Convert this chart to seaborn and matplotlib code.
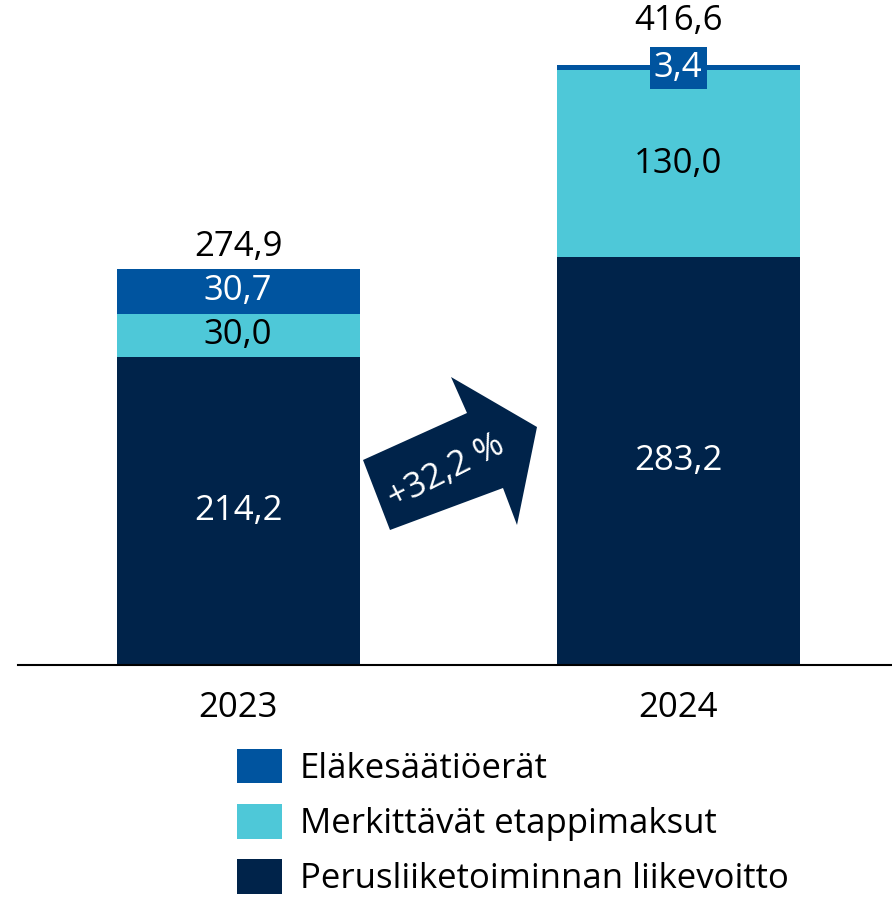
import pandas as pd
import numpy as np
import matplotlib.pyplot as plt
import seaborn as sns
from matplotlib.patches import Polygon, Patch

years = ["2023", "2024"]
perus = [214.2, 283.2]
etappi = [30.0, 130.0]
elake = [30.7, 3.4]
totals = [274.9, 416.6]
series_names = ["Eläkesäätiöerät", "Merkittävät etappimaksut", "Perusliiketoiminnan liikevoitto"]
growth_label = "+32,2 %"

c_dark = "#00234A"
c_cyan = "#4EC8D8"
c_blue = "#00549F"

sns.set_theme(style="white")
plt.rcParams["font.family"] = ["Open Sans", "DejaVu Sans"]

df = pd.DataFrame({"year": years, "perus": perus, "etappi": etappi, "elake": elake})
df["mid"] = df["perus"] + df["etappi"]
df["top"] = df["mid"] + df["elake"]

fig = plt.figure(figsize=(8.92, 8.98), dpi=100)
ax = fig.add_axes([18 / 892, (898 - 665) / 898, 874 / 892, 665 / 898])

w = 0.552
sns.barplot(data=df, x="year", y="top", color=c_blue, width=w, saturation=1, ax=ax)
sns.barplot(data=df, x="year", y="mid", color=c_cyan, width=w, saturation=1, ax=ax)
sns.barplot(data=df, x="year", y="perus", color=c_dark, width=w, saturation=1, ax=ax)
for p in ax.patches:
    p.set_linewidth(0)

fs = 25
ax.set_xlim(-0.5, 1.486)
ax.set_ylim(0, 462)
ax.set_xlabel("")
ax.set_ylabel("")
ax.set_yticks([])
ax.tick_params(axis="x", length=0, pad=19, labelsize=fs, labelcolor="black")
for s in ["top", "right", "left"]:
    ax.spines[s].set_visible(False)
ax.spines["bottom"].set_color("black")
ax.spines["bottom"].set_linewidth(1.5)

fmt = lambda v: f"{v:.1f}".replace(".", ",")
for i in range(len(years)):
    ax.text(i, perus[i] / 2, fmt(perus[i]), ha="center", va="center", color="white", fontsize=fs)
    ax.text(i, perus[i] + etappi[i] / 2, fmt(etappi[i]), ha="center", va="center", color="black", fontsize=fs)
    yb = perus[i] + etappi[i] + elake[i] / 2
    if elake[i] < 15:
        ax.text(i, yb, fmt(elake[i]), ha="center", va="center", color="white", fontsize=fs,
                bbox=dict(boxstyle="square,pad=0.12", fc=c_blue, ec="none"))
        off = 20
    else:
        ax.text(i, yb, fmt(elake[i]), ha="center", va="center", color="white", fontsize=fs)
        off = 4
    ax.annotate(fmt(totals[i]), (i, totals[i]), xytext=(0, off), textcoords="offset points",
                ha="center", va="bottom", color="black", fontsize=fs)

# growth arrow (pixel coords -> figure fraction)
pts = [(363, 460), (467, 413), (451, 377), (537, 427), (517, 525), (503, 488), (390, 530)]
pts = [(x / 892, 1 - y / 898) for x, y in pts]
fig.patches.append(Polygon(pts, closed=True, transform=fig.transFigure, fc=c_dark, ec="none"))
fig.text(446 / 892, 1 - 472 / 898, growth_label, rotation=27, ha="center", va="center",
         color="white", fontsize=25)

handles = [Patch(fc=c, ec="none") for c in [c_blue, c_cyan, c_dark]]
leg = fig.legend(handles, series_names, loc="upper left", bbox_to_anchor=(237 / 892, 1 - 749 / 898),
                 frameon=False, fontsize=fs, handlelength=1.3, handleheight=1.15, handletextpad=0.5,
                 labelspacing=0.52, borderpad=0, borderaxespad=0)
for t in leg.get_texts():
    t.set_color("black")

fig.savefig("out.png", dpi=100)
